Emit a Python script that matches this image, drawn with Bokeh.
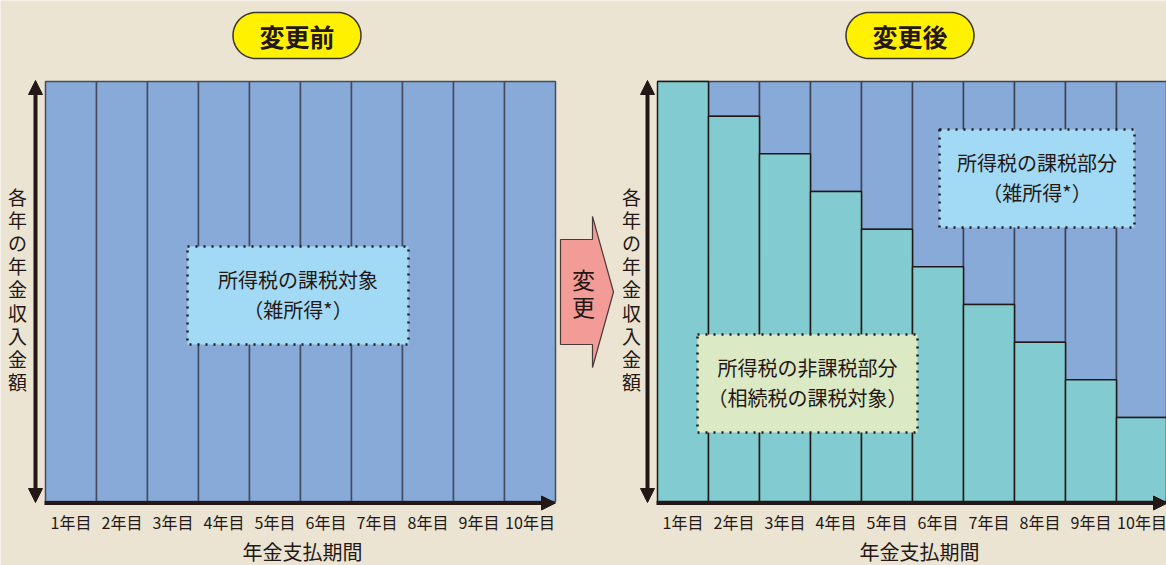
import numpy as np
from bokeh.plotting import figure
from bokeh.models import Arrow, NormalHead
from bokeh.core.properties import value
from bokeh.embed import file_html
from bokeh.resources import INLINE

# ---------------- data ----------------
years = ["1年目", "2年目", "3年目", "4年目", "5年目", "6年目", "7年目", "8年目", "9年目", "10年目"]
before_taxable = [100, 100, 100, 100, 100, 100, 100, 100, 100, 100]
after_total = [100, 100, 100, 100, 100, 100, 100, 100, 100, 100]
after_nontaxable = [100, 91.7, 82.8, 73.8, 64.8, 55.9, 46.9, 37.9, 29.0, 20.0]

panel_titles = ["変更前", "変更後"]
y_title = "各年の年金収入金額"
x_title = "年金支払期間"
change_label = "変更"
box_left_text = "所得税の課税対象\n（雑所得*）"
box_taxable_text = "所得税の課税部分\n（雑所得*）"
box_nontax_text = "所得税の非課税部分\n（相続税の課税対象）"

# ---------------- style ----------------
BG = "#ebe4d2"
BLUE = "#88aad9"
TEAL = "#82cbd1"
SKY = "#a2daf5"
GREEN = "#dbe9c5"
PINK = "#f29b97"
YELLOW = "#fff100"
INK = "#231815"
FONT = value("Noto Sans CJK JP")
LH = 1.448  # font line-height factor of Noto Sans CJK

LEFT0 = 0      # x offset (bar units) of the left panel
RIGHT0 = 12    # x offset (bar units) of the right panel
PXU = 51.0     # pixels per bar unit
PYU = 4.2      # pixels per percent
X0PX = 45.0    # page pixel of x = 0
Y0PX = 501.0   # page pixel of y = 0
W, H = 1166, 565


def X(px):
    return (px - X0PX) / PXU


def Y(py):
    return (Y0PX - py) / PYU


p = figure(width=W, height=H,
           x_range=(X(0), X(W)), y_range=(Y(H), Y(0)),
           output_backend="svg", toolbar_location=None, tools="",
           x_axis_location=None, y_axis_location=None, min_border=0,
           background_fill_color=BG, border_fill_color=BG,
           outline_line_color=None)
p.grid.grid_line_color = None

n = len(years)
xl = [LEFT0 + i + 0.5 for i in range(n)]
xr = [RIGHT0 + i + 0.5 for i in range(n)]

# ---------------- bars ----------------
p.vbar(x=xl, bottom=0, top=before_taxable, width=1,
       fill_color=BLUE, line_color="#454b5c", line_width=1.5)
p.vbar(x=xr, bottom=after_nontaxable, top=after_total, width=1,
       fill_color=BLUE, line_color="#3d4252", line_width=1.5)
p.vbar(x=xr, bottom=0, top=after_nontaxable, width=1,
       fill_color=TEAL, line_color=INK, line_width=1.5)

# ---------------- axes (arrows) ----------------
for x0 in (LEFT0, RIGHT0):
    ax = x0 + X(35) - X(45)
    p.add_layout(Arrow(x_start=ax, y_start=Y(80), x_end=ax, y_end=Y(502),
                       line_color=INK, line_width=4,
                       start=NormalHead(size=14, fill_color=INK, line_color=INK),
                       end=NormalHead(size=14, fill_color=INK, line_color=INK)))
    p.add_layout(Arrow(x_start=x0 - 0.02, y_start=Y(502.5), x_end=x0 + n, y_end=Y(502.5),
                       line_color=INK, line_width=4, start=None,
                       end=NormalHead(size=14, fill_color=INK, line_color=INK)))

# tick labels
p.text(x=xl + xr, y=[Y(521)] * (2 * n), text=years + years,
       text_font=FONT, text_font_size="16px", text_color=INK,
       text_align="center", text_baseline="middle")

# x titles
p.text(x=[LEFT0 + X(302), RIGHT0 + X(919) - X(657)], y=[Y(551)] * 2,
       text=[x_title] * 2, text_font=FONT, text_font_size="20px",
       text_color=INK, text_align="center", text_baseline="middle")

# y titles (vertical writing)
vt = "\n".join(list(y_title))
p.text(x=[X(17), RIGHT0 + X(631) - X(657)], y=[Y(288.5)] * 2, text=[vt, vt],
       text_font=FONT, text_font_size="19px", text_color=INK,
       text_align="center", text_baseline="middle",
       text_line_height=23.6 / (19 * LH))

# ---------------- title pills ----------------
def stadium(cx, cy, w, h):
    r = h / 2.0
    a = w / 2.0 - r
    t1 = np.linspace(-np.pi / 2, np.pi / 2, 40)
    t2 = np.linspace(np.pi / 2, 3 * np.pi / 2, 40)
    px = np.concatenate([cx + a + r * np.cos(t1), cx - a + r * np.cos(t2)])
    py = np.concatenate([cy + r * np.sin(t1), cy + r * np.sin(t2)])
    return [X(v) for v in px], [Y(v) for v in py]

for title, cxp in zip(panel_titles, (296.5, 909.5)):
    xs, ys = stadium(cxp, 35, 128, 46)
    p.patch(xs, ys, fill_color=YELLOW, line_color="#3a3530", line_width=1.5)
    p.text(x=[X(cxp)], y=[Y(35)], text=[title], text_font=FONT,
           text_font_size="25px", text_font_style="bold", text_color=INK,
           text_align="center", text_baseline="middle")

# ---------------- change arrow ----------------
ax_px = [560, 592, 592, 613, 592, 592, 560]
ay_px = [239, 239, 216, 291.5, 367, 344, 344]
p.patch([X(v) for v in ax_px], [Y(v) for v in ay_px],
        fill_color=PINK, line_color="#4a3a38", line_width=1.2)
p.text(x=[X(583)], y=[Y(292)], text=["\n".join(list(change_label))],
       text_font=FONT, text_font_size="23px", text_color=INK,
       text_align="center", text_baseline="middle",
       text_line_height=25.5 / (23 * LH))

# ---------------- dotted boxes ----------------
boxes = [
    (187, 408, 246, 344, SKY, box_left_text),
    (939, 1134, 129, 227, SKY, box_taxable_text),
    (697, 917, 334, 432, GREEN, box_nontax_text),
]
for l, r, t, b, fc, txt in boxes:
    p.quad(left=[X(l)], right=[X(r)], top=[Y(t)], bottom=[Y(b)],
           fill_color=fc, line_color=INK, line_width=2.5, line_dash="2 6")
    p.text(x=[X((l + r) / 2.0)], y=[Y((t + b) / 2.0 - 1)], text=[txt],
           text_font=FONT, text_font_size="20px", text_color=INK,
           text_align="center", text_baseline="middle",
           text_line_height=29.5 / (20 * LH))

open("out.html", "w").write(file_html(p, INLINE))
